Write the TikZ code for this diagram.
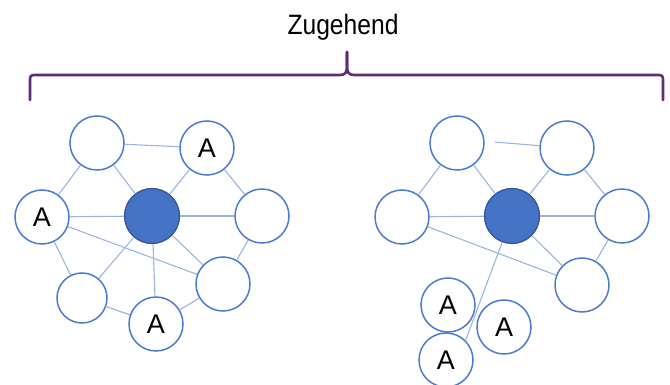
\documentclass[tikz,border=0pt]{standalone}
\usepackage{fontspec}
\setmainfont{Liberation Sans}
\newfontfamily\narrowfont[FakeStretch=0.88]{Liberation Sans}
\definecolor{nodeblue}{HTML}{4A7BD0}
\definecolor{edgeblue}{HTML}{9BB4E0}
\definecolor{hubfill}{HTML}{4472C4}
\definecolor{hubline}{HTML}{2F5597}
\definecolor{bracepurple}{HTML}{5E2D75}
\begin{document}
\begin{tikzpicture}[x=1pt,y=-1pt,
  peer/.style={circle,draw=nodeblue,line width=1.5pt,fill=white,minimum size=54pt,inner sep=0pt,font=\fontsize{27}{27}\selectfont},
  smallpeer/.style={peer,minimum size=50pt},
  hub/.style={circle,draw=hubline,line width=1.2pt,fill=hubfill,minimum size=55pt,inner sep=0pt},
  link/.style={draw=edgeblue,line width=1.1pt},
  bracket/.style={draw=bracepurple,line width=2.6pt,line cap=round,line join=round},
  title/.style={font=\narrowfont\fontsize{28}{28}\selectfont,inner sep=0pt,anchor=base}]
\useasboundingbox (0,0) rectangle (670,385);
\clip (0,0) rectangle (670,385);

% title and brace
\node[title] (t) at (343,35) {Zugehend};
\coordinate (bl) at (30,100);
\coordinate (br) at (663,100);
\coordinate (bt) at (347,52);
\draw[bracket] (bl) -- (30,82) .. controls (30,75) .. (37,75) -- (340,75)
  .. controls (346,75) and (347,72) .. (347,64) -- (bt);
\draw[bracket] (bt) -- (347,64) .. controls (347,72) and (348,75) .. (354,75)
  -- (656,75) .. controls (663,75) .. (663,82) -- (br);

% left graph
\node[hub]  (c1)  at (152,216) {};
\node[peer] (tl1) at (97,143) {};
\node[peer] (tr1) at (207,148) {A};
\node[peer] (l1)  at (42,217) {A};
\node[peer] (r1)  at (262,216) {};
\node[peer] (lr1) at (223,284) {};
\node[smallpeer] (bl1) at (82,298) {};
\node[peer] (b1)  at (156,324) {A};

\draw[link] (tl1) -- (tr1);
\draw[link] (tl1) -- (l1);
\draw[link] (tl1) -- (c1);
\draw[link] (tr1) -- (c1);
\draw[link] (tr1) -- (r1);
\draw[link] (l1) -- (c1);
\draw[link] (l1) -- (bl1);
\draw[link] (l1) -- (lr1);
\draw[link] (c1) -- (r1);
\draw[link] (c1) -- (lr1);
\draw[link] (c1) -- (bl1);
\draw[link] (c1) -- (b1);
\draw[link] (r1) -- (lr1);
\draw[link] (bl1) -- (b1);
\draw[link] (b1) -- (lr1);

% right graph
\node[hub]  (c2)  at (512,216) {};
\node[peer] (tl2) at (457,143) {};
\node[peer] (tr2) at (567,148) {};
\node[peer] (l2)  at (402,217) {};
\node[peer] (r2)  at (622,216) {};
\node[peer] (lr2) at (582,285) {};
\node[peer] (a1)  at (448,305) {A};
\node[peer] (a2)  at (504,327) {A};
\node[peer] (a3)  at (446,360) {A};

\coordinate (loose) at (495,142);
\draw[link] (loose) -- (tr2);
\draw[link] (tl2) -- (l2);
\draw[link] (tl2) -- (c2);
\draw[link] (tr2) -- (c2);
\draw[link] (tr2) -- (r2);
\draw[link] (l2) -- (c2);
\draw[link] (l2) -- (lr2);
\draw[link] (c2) -- (r2);
\draw[link] (c2) -- (lr2);
\draw[link] (c2) -- (a3.45);
\draw[link] (r2) -- (lr2);
\end{tikzpicture}
\end{document}
